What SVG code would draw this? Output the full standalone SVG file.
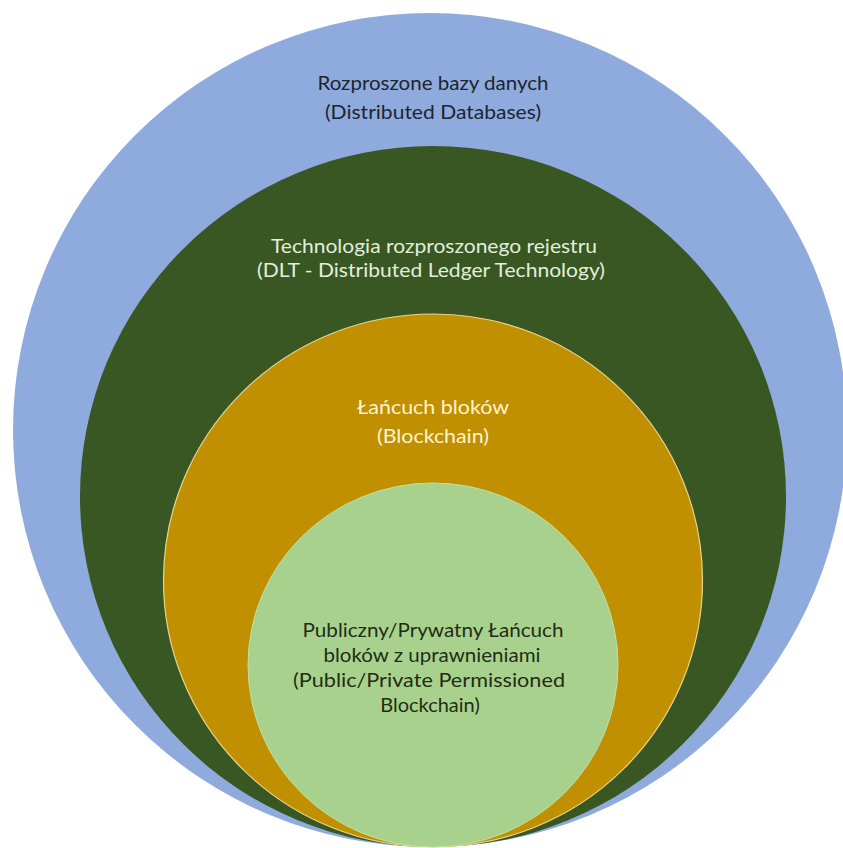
<svg xmlns="http://www.w3.org/2000/svg" width="843" height="848" viewBox="0 0 843 848">
  <style>
    .lbl { font-family: Lato, "Noto Sans", "Liberation Sans", sans-serif; font-size: 20px; text-anchor: middle; }
    .dark { fill: #1d2530; }
    .light-g { fill: #e3eedb; }
    .light-y { fill: #fff3cf; }
    .deep { fill: #1f2d14; }
  </style>
  <rect width="843" height="848" fill="#ffffff"/>

  <!-- Distributed databases (outer set) -->
  <g id="distributed-databases">
    <ellipse cx="430" cy="430" rx="417" ry="417" fill="#8faadc"/>
    <text class="lbl dark" x="433" y="90" textLength="231" lengthAdjust="spacingAndGlyphs">Rozproszone bazy danych</text>
    <text class="lbl dark" x="433" y="119" textLength="216" lengthAdjust="spacingAndGlyphs">(Distributed Databases)</text>
  </g>

  <!-- Distributed ledger technology -->
  <g id="dlt">
    <ellipse cx="433" cy="496.5" rx="353" ry="350.5" fill="#385723"/>
    <text class="lbl light-g" x="434" y="253" textLength="326" lengthAdjust="spacingAndGlyphs">Technologia rozproszonego rejestru</text>
    <text class="lbl light-g" x="431" y="277" textLength="348" lengthAdjust="spacingAndGlyphs">(DLT - Distributed Ledger Technology)</text>
  </g>

  <!-- Blockchain -->
  <g id="blockchain">
    <ellipse cx="433" cy="580.5" rx="269.5" ry="266.5" fill="#c09000" stroke="#e6d48e" stroke-width="1.2"/>
    <text class="lbl light-y" x="433" y="414" textLength="152" lengthAdjust="spacingAndGlyphs">Łańcuch bloków</text>
    <text class="lbl light-y" x="433" y="443" textLength="112" lengthAdjust="spacingAndGlyphs">(Blockchain)</text>
  </g>

  <!-- Public / private permissioned blockchain -->
  <g id="permissioned-blockchain">
    <ellipse cx="433" cy="665" rx="185" ry="182" fill="#a9d18e" stroke="#bfe0a6" stroke-width="1"/>
    <text class="lbl deep" x="433" y="637" textLength="261" lengthAdjust="spacingAndGlyphs">Publiczny/Prywatny Łańcuch</text>
    <text class="lbl deep" x="432" y="662" textLength="217" lengthAdjust="spacingAndGlyphs">bloków z uprawnieniami</text>
    <text class="lbl deep" x="429" y="687" textLength="272" lengthAdjust="spacingAndGlyphs">(Public/Private Permissioned</text>
    <text class="lbl deep" x="430" y="712">Blockchain)</text>
  </g>
</svg>
